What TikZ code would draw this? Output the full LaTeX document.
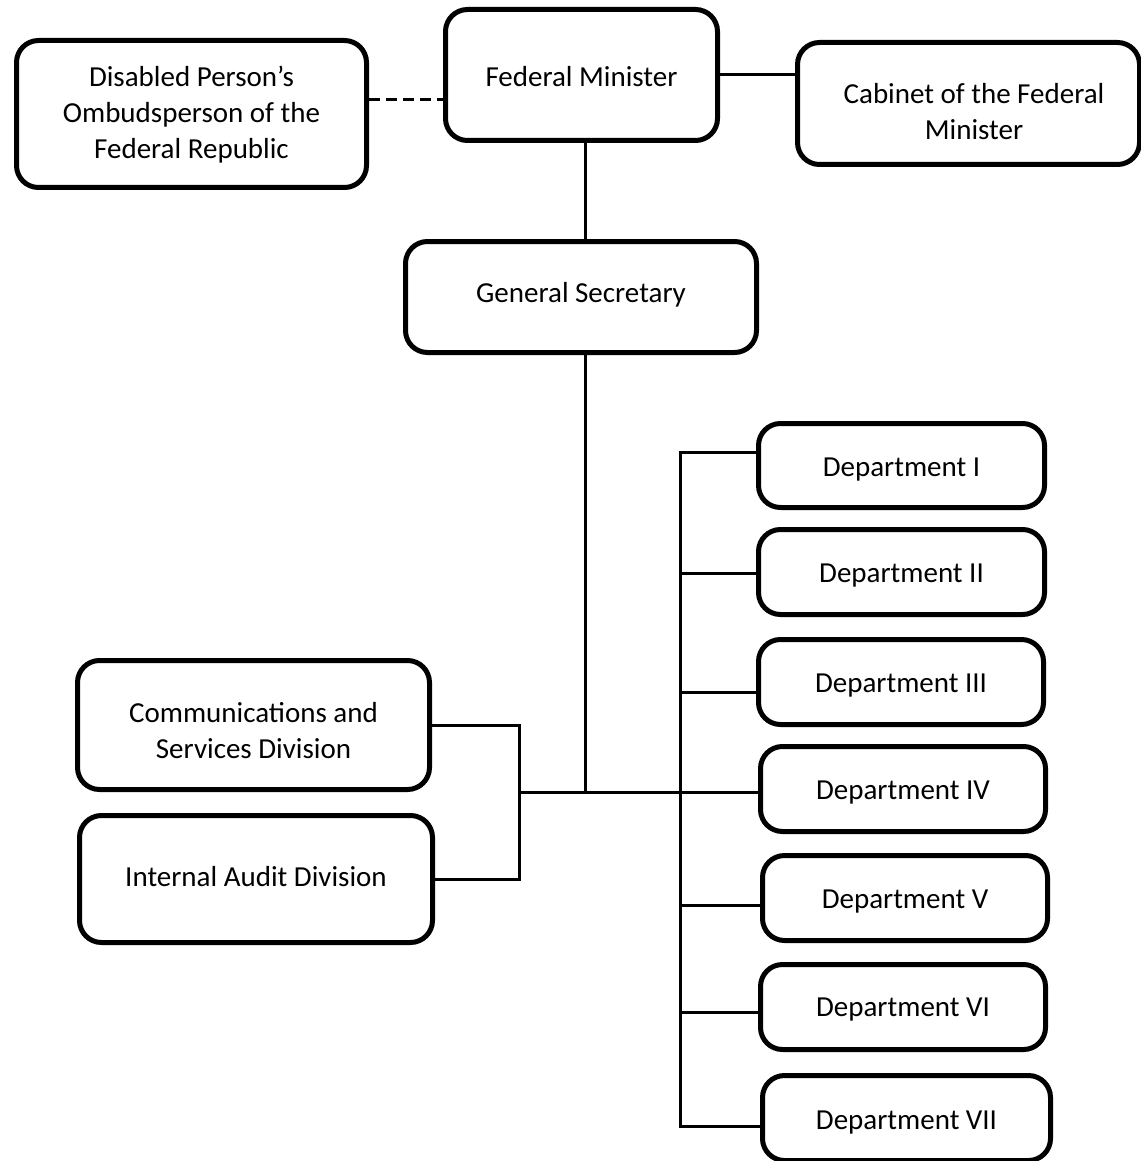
\documentclass[tikz,border=0pt]{standalone}
\usepackage{fontspec}
\setmainfont{Carlito}
\begin{document}
\begin{tikzpicture}[x=1pt,y=-1pt,
  orgbox/.style={draw=black, line width=5pt, rounded corners=22pt, fill=white,
    inner sep=0pt},
  orgtext/.style={anchor=base, align=center, inner sep=0pt,
    font=\fontsize{29}{36}\selectfont},
  link/.style={draw=black, line width=3pt},
  dashlink/.style={link, dash pattern=on 11pt off 6pt}]
\useasboundingbox (0,0) rectangle (1140,1161);

% top row (multi-line labels are placed by the baseline of their last line)
\node[orgbox, minimum width=350pt, minimum height=147pt] (omb) at (191.5,114) {};
\node[orgtext] (omb-t) at (191.5,159) {Disabled Person’s\\Ombudsperson of the\\Federal Republic};
\node[orgbox, minimum width=272pt, minimum height=131pt] (fm) at (581.5,75) {};
\node[orgtext] (fm-t) at (581.5,87) {Federal Minister};
\node[orgbox, minimum width=342pt, minimum height=122pt] (cab) at (968.5,103.5) {};
\node[orgtext] (cab-t) at (974,140) {Cabinet of the Federal\\Minister};

% general secretary
\node[orgbox, minimum width=351pt, minimum height=111pt] (gs) at (581,297) {};
\node[orgtext] (gs-t) at (581,302) {General Secretary};

% departments
\node[orgbox, minimum width=286pt, minimum height=84pt] (d1) at (901.5,465.5) {};
\node[orgtext] (d1-t) at (901.5,476.5) {Department I};
\node[orgbox, minimum width=286pt, minimum height=85pt] (d2) at (901.5,572) {};
\node[orgtext] (d2-t) at (901.5,582) {Department II};
\node[orgbox, minimum width=285pt, minimum height=85pt] (d3) at (901,682) {};
\node[orgtext] (d3-t) at (901,692.5) {Department III};
\node[orgbox, minimum width=285pt, minimum height=85pt] (d4) at (903,789) {};
\node[orgtext] (d4-t) at (903,799.5) {Department IV};
\node[orgbox, minimum width=285pt, minimum height=85pt] (d5) at (905,898) {};
\node[orgtext] (d5-t) at (905,908.5) {Department V};
\node[orgbox, minimum width=285pt, minimum height=85pt] (d6) at (903,1007) {};
\node[orgtext] (d6-t) at (903,1016) {Department VI};
\node[orgbox, minimum width=288pt, minimum height=85pt] (d7) at (906.5,1118) {};
\node[orgtext] (d7-t) at (906.5,1129) {Department VII};

% staff divisions
\node[orgbox, minimum width=352pt, minimum height=129pt] (comm) at (253.5,725) {};
\node[orgtext] (comm-t) at (253.5,758) {Communications and\\Services Division};
\node[orgbox, minimum width=353pt, minimum height=127pt] (audit) at (256,879) {};
\node[orgtext] (audit-t) at (256,886) {Internal Audit Division};

% connector reference points
\coordinate (ydash) at (0,100);
\coordinate (trunk) at (585,792);
\coordinate (lbus) at (519,792);
\coordinate (b1) at (680,452);
\coordinate (b2) at (680,573);
\coordinate (b3) at (680,692);
\coordinate (b5) at (680,905);
\coordinate (b6) at (680,1012);
\coordinate (b7) at (680,1126);

% top connectors
\draw[dashlink] (omb.east |- ydash) -- (fm.west |- ydash);
\draw[link] (fm.east) -- (fm.east -| cab.west);
\draw[link] (trunk |- fm.south) -- (trunk |- gs.north);
\draw[link] (trunk |- gs.south) -- (trunk);

% horizontal spine
\draw[link] (lbus) -- (trunk -| d4.west);

% department bus
\draw[link] (b1 -| d1.west) -- (b1) -- (b7) -- (b7 -| d7.west);
\draw[link] (b2) -- (b2 -| d2.west);
\draw[link] (b3) -- (b3 -| d3.west);
\draw[link] (b5) -- (b5 -| d5.west);
\draw[link] (b6) -- (b6 -| d6.west);

% division bus
\draw[link] (comm.east) -- (comm.east -| lbus) -- (audit.east -| lbus) -- (audit.east);
\end{tikzpicture}
\end{document}
